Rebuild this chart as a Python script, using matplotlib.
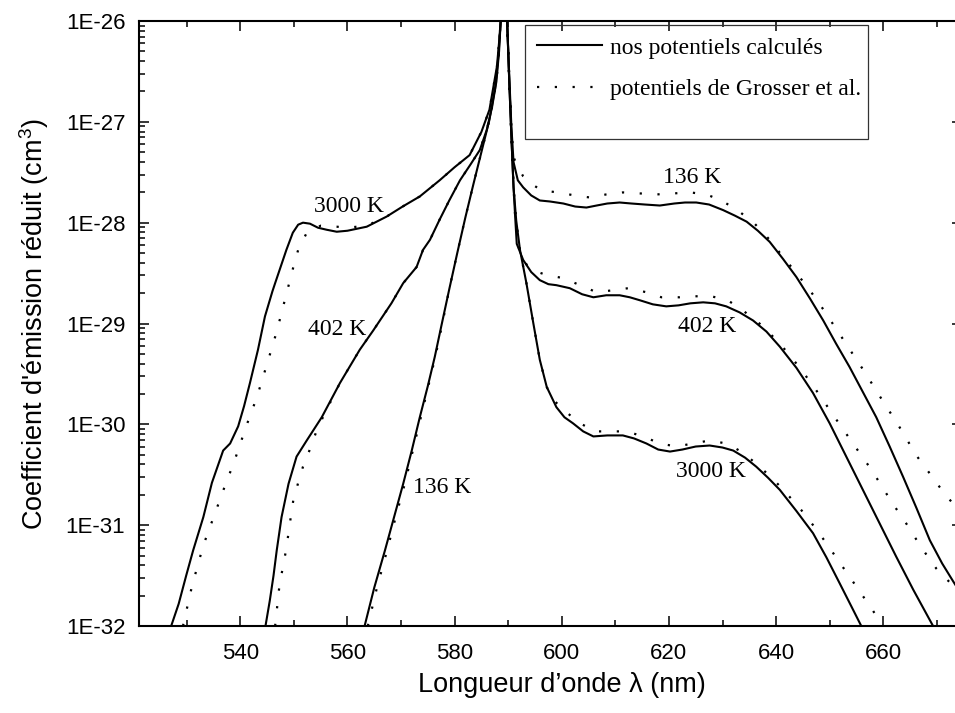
import numpy as np
import matplotlib
matplotlib.use("Agg")
import matplotlib.pyplot as plt
from matplotlib.ticker import FixedLocator, FuncFormatter, MultipleLocator, NullFormatter
from matplotlib.lines import Line2D
from matplotlib.patches import Rectangle

plt.rcParams['font.family'] = ['Liberation Sans', 'DejaVu Sans']
plt.rcParams['mathtext.fontset'] = 'custom'
plt.rcParams['mathtext.rm'] = 'Liberation Sans'
plt.rcParams['mathtext.it'] = 'Liberation Sans:italic'
plt.rcParams['mathtext.bf'] = 'Liberation Sans:bold'
SERIF = ['Liberation Serif', 'DejaVu Serif']

# Reduced emission coefficient, stored as log10(cm^3), versus wavelength (nm)
# --- 136 K ---
wl_136_calc = [563.2, 565.0, 567.0, 568.7, 570.4, 572.0, 573.5, 575.0, 576.3, 577.5,
               579.0, 580.5, 582.0, 583.5, 585.0, 586.5, 587.6, 588.2, 588.6, 589.2,
               589.8, 590.2, 590.6, 591.0, 591.8, 592.8, 594.3, 595.9, 597.8, 600.3,
               602.5, 604.6, 606.5, 608.5, 610.8, 613.0, 615.5, 618.3, 621.0, 623.0,
               625.1, 627.5, 630.1, 632.3, 634.5, 636.6, 638.8, 641.3, 643.8, 646.3,
               648.8, 651.2, 653.7, 656.2, 658.7, 661.2, 663.7, 666.2, 668.7, 671.0,
               673.2, 675.0]
lg_136_calc = [-32.0, -31.62, -31.25, -30.92, -30.59, -30.26, -29.93, -29.62, -29.33, -29.03,
               -28.66, -28.30, -27.95, -27.62, -27.30, -26.98, -26.65, -26.33, -26.0, -25.7,
               -26.0, -26.55, -27.05, -27.4, -27.58, -27.65, -27.73, -27.78, -27.79, -27.81,
               -27.84, -27.85, -27.83, -27.81, -27.80, -27.81, -27.82, -27.83, -27.81, -27.80,
               -27.80, -27.82, -27.875, -27.93, -27.99, -28.08, -28.19, -28.36, -28.54, -28.75,
               -28.97, -29.20, -29.43, -29.68, -29.93, -30.22, -30.52, -30.83, -31.15, -31.38,
               -31.57, -31.72]
wl_136_gros = [563.8, 565.5, 567.4, 569.0, 570.7, 572.2, 573.7, 575.1, 576.4, 577.6,
               579.0, 580.5, 582.0, 583.5, 585.0, 586.5, 587.6, 588.2, 588.6, 589.2,
               589.8, 590.2, 590.6, 591.0, 591.8, 592.8, 594.5, 596.2, 599.3, 602.4,
               605.2, 608.3, 611.4, 614.6, 617.7, 620.8, 624.0, 627.0, 629.8, 632.9,
               636.0, 638.8, 641.3, 643.8, 646.3, 648.3, 650.3, 652.3, 654.4, 656.4,
               658.4, 660.4, 662.5, 664.3, 666.2, 668.3, 670.5, 673.2, 675.0]
lg_136_gros = [-32.0, -31.62, -31.25, -30.92, -30.59, -30.26, -29.93, -29.62, -29.33, -29.03,
               -28.66, -28.30, -27.95, -27.62, -27.30, -26.98, -26.65, -26.33, -26.0, -25.7,
               -26.0, -26.55, -27.05, -27.35, -27.45, -27.54, -27.62, -27.68, -27.70, -27.73,
               -27.75, -27.72, -27.70, -27.71, -27.72, -27.71, -27.70, -27.72, -27.78, -27.88,
               -28.01, -28.17, -28.34, -28.50, -28.67, -28.82, -28.98, -29.14, -29.31, -29.47,
               -29.64, -29.81, -29.98, -30.14, -30.31, -30.46, -30.62, -30.80, -30.92]

# --- 402 K ---
wl_402_calc = [544.7, 545.5, 546.2, 546.8, 547.7, 549.0, 550.5, 552.4, 555.2, 558.6,
               562.3, 564.8, 568.2, 570.4, 572.9, 574.1, 575.4, 577.2, 579.0, 581.0,
               583.0, 584.7, 586.0, 587.0, 587.8, 588.3, 588.6, 589.2, 589.8, 590.2,
               590.6, 591.0, 591.3, 591.6, 592.8, 594.3, 595.9, 597.5, 599.0, 601.5,
               603.8, 605.9, 608.3, 610.8, 612.7, 614.6, 617.0, 619.5, 621.8, 624.0,
               626.4, 628.6, 630.7, 633.2, 635.7, 638.2, 640.7, 643.8, 646.9, 650.0,
               653.1, 656.2, 659.3, 662.4, 665.6, 669.3]
lg_402_calc = [-32.0, -31.75, -31.5, -31.25, -30.92, -30.59, -30.32, -30.16, -29.93, -29.59,
               -29.26, -29.07, -28.80, -28.60, -28.44, -28.27, -28.17, -27.97, -27.78, -27.58,
               -27.42, -27.28, -27.08, -26.85, -26.6, -26.3, -26.0, -25.7, -26.0, -26.6,
               -27.15, -27.65, -27.94, -28.21, -28.37, -28.49, -28.57, -28.61, -28.62, -28.65,
               -28.71, -28.74, -28.72, -28.72, -28.74, -28.77, -28.81, -28.83, -28.82, -28.80,
               -28.79, -28.80, -28.83, -28.89, -28.97, -29.08, -29.23, -29.44, -29.69, -29.99,
               -30.32, -30.65, -30.98, -31.31, -31.64, -32.0]
wl_402_gros = [546.5, 547.3, 548.6, 549.2, 549.9, 550.8, 551.7, 552.9, 554.2, 555.5,
               558.6, 562.3, 564.8, 568.2, 570.4, 572.9, 574.1, 575.4, 577.2, 579.0,
               581.0, 583.0, 584.7, 586.0, 587.0, 587.8, 588.3, 588.6, 589.2, 589.8,
               590.2, 590.6, 591.0, 591.3, 592.0, 593.1, 595.0, 597.2, 600.3, 603.4,
               606.5, 609.6, 612.4, 615.8, 618.6, 622.0, 624.8, 627.9, 631.0, 633.8,
               636.9, 640.0, 642.5, 645.0, 647.2, 649.4, 651.6, 653.7, 655.8, 657.8,
               659.8, 661.8, 663.9, 665.9, 667.9, 669.9, 673.2, 675.0]
lg_402_gros = [-32.0, -31.6, -31.23, -31.0, -30.75, -30.58, -30.42, -30.26, -30.07, -29.92,
               -29.59, -29.26, -29.07, -28.80, -28.60, -28.44, -28.27, -28.17, -27.97, -27.78,
               -27.58, -27.42, -27.28, -27.08, -26.85, -26.6, -26.3, -26.0, -25.7, -26.0,
               -26.6, -27.15, -27.65, -27.94, -28.25, -28.40, -28.48, -28.52, -28.55, -28.62,
               -28.69, -28.67, -28.65, -28.69, -28.74, -28.74, -28.73, -28.73, -28.77, -28.87,
               -29.00, -29.16, -29.31, -29.48, -29.64, -29.81, -29.98, -30.14, -30.30, -30.45,
               -30.62, -30.79, -30.95, -31.12, -31.28, -31.43, -31.61, -31.72]

# --- 3000 K ---
wl_3000_calc = [527.1, 528.5, 529.9, 531.2, 533.1, 534.7, 536.8, 538.1, 539.6, 540.7,
                541.8, 543.3, 544.6, 546.0, 546.5, 548.6, 549.8, 550.8, 551.7, 553.0,
                554.5, 556.1, 558.0, 560.0, 563.6, 567.3, 570.3, 573.5, 577.2, 580.0,
                582.8, 585.0, 586.5, 587.9, 588.4, 588.6, 589.2, 589.8, 590.2, 590.6,
                591.0, 591.5, 592.2, 593.4, 594.7, 595.9, 597.2, 599.0, 600.5, 602.1,
                604.0, 605.9, 608.5, 611.4, 613.5, 615.8, 618.0, 620.2, 622.5, 625.0,
                627.6, 630.0, 632.0, 634.2, 636.3, 638.5, 640.7, 643.8, 646.9, 649.4,
                651.9, 654.0, 655.9]
lg_3000_calc = [-32.0, -31.78, -31.5, -31.25, -30.92, -30.58, -30.26, -30.19, -30.02, -29.82,
                -29.59, -29.26, -28.93, -28.68, -28.60, -28.27, -28.10, -28.02, -28.00, -28.01,
                -28.05, -28.07, -28.09, -28.08, -28.04, -27.94, -27.84, -27.74, -27.58, -27.45,
                -27.33, -27.10, -26.88, -26.45, -26.15, -26.0, -25.7, -26.0, -26.6, -27.15,
                -27.65, -27.98, -28.27, -28.60, -29.0, -29.36, -29.63, -29.83, -29.93, -29.99,
                -30.07, -30.12, -30.11, -30.11, -30.14, -30.19, -30.25, -30.27, -30.25, -30.22,
                -30.21, -30.23, -30.26, -30.33, -30.42, -30.53, -30.65, -30.86, -31.08, -31.32,
                -31.58, -31.8, -32.0]
wl_3000_gros = [529.3, 531.0, 533.1, 535.5, 537.2, 538.8, 541.1, 543.1, 545.0, 546.8,
                548.3, 549.9, 550.8, 552.4, 555.0, 558.0, 560.0, 563.6, 567.3, 570.3,
                573.5, 577.2, 580.0, 582.8, 585.0, 586.5, 587.9, 588.4, 588.6, 589.2,
                589.8, 590.2, 590.6, 591.0, 591.5, 592.2, 593.4, 594.7, 595.9, 597.2,
                598.5, 600.0, 603.1, 606.2, 609.3, 612.1, 615.2, 618.3, 621.4, 624.5,
                627.6, 630.7, 633.5, 636.3, 639.4, 642.2, 644.7, 647.2, 649.4, 651.6,
                653.7, 655.9, 658.0, 659.8]
lg_3000_gros = [-32.0, -31.6, -31.2, -30.85, -30.6, -30.38, -30.02, -29.73, -29.40, -29.08,
                -28.77, -28.44, -28.27, -28.10, -28.03, -28.04, -28.05, -28.03, -27.94, -27.84,
                -27.74, -27.58, -27.45, -27.33, -27.10, -26.88, -26.45, -26.15, -26.0, -25.7,
                -26.0, -26.6, -27.15, -27.65, -27.98, -28.27, -28.60, -29.0, -29.36, -29.63,
                -29.76, -29.84, -29.98, -30.07, -30.07, -30.07, -30.12, -30.19, -30.22, -30.19,
                -30.16, -30.19, -30.27, -30.39, -30.54, -30.70, -30.85, -31.02, -31.18, -31.35,
                -31.51, -31.68, -31.84, -32.0]

# Temperature annotations (wavelength, log10 coefficient at text baseline)
temp_labels = ['3000 K', '402 K', '136 K', '136 K', '402 K', '3000 K']
label_wl = [560.3, 558.05, 577.65, 624.3, 627.1, 627.9]
label_lg = [-27.89, -29.115, -30.68, -27.61, -29.08, -30.52]

legend_labels = ['nos potentiels calculés', 'potentiels de Grosser et al.']
x_major_ticks = [540, 560, 580, 600, 620, 640, 660]
y_decades = [-32, -31, -30, -29, -28, -27, -26]

# ---------------------------------------------------------------------------
W, H = 955, 713
fig = plt.figure(figsize=(W / 100, H / 100), dpi=100)
ax_l, ax_r, ax_t, ax_b = 138.5, 962.0, 21.0, 626.0
ax = fig.add_axes([ax_l / W, (H - ax_b) / H, (ax_r - ax_l) / W, (ax_b - ax_t) / H])

DOTS = (0, (1, 7))
series = [
    (wl_136_calc, lg_136_calc, wl_136_gros, lg_136_gros),
    (wl_402_calc, lg_402_calc, wl_402_gros, lg_402_gros),
    (wl_3000_calc, lg_3000_calc, wl_3000_gros, lg_3000_gros),
]
for wc, lc, wg, lgr in series:
    ax.plot(wg, 10.0 ** np.asarray(lgr), color='black', lw=1.6, ls=DOTS)
    ax.plot(wc, 10.0 ** np.asarray(lc), color='black', lw=1.5, solid_joinstyle='round')

for txt, xw, yl in zip(temp_labels, label_wl, label_lg):
    ax.text(xw, 10.0 ** yl, txt, fontsize=17, family=SERIF, ha='center', va='baseline')

ax.set_yscale('log')
ax.set_xlim(521, 674.7)
ax.set_ylim(1e-32, 1e-26)

ax.set_xticks(x_major_ticks)
ax.xaxis.set_minor_locator(MultipleLocator(10))
major_y = [10.0 ** d for d in y_decades]
minor_y = [m * 10.0 ** d for d in y_decades[:-1] for m in range(2, 10)]
ax.yaxis.set_major_locator(FixedLocator(major_y))
ax.yaxis.set_minor_locator(FixedLocator(minor_y))
ax.yaxis.set_minor_formatter(NullFormatter())
ax.yaxis.set_major_formatter(FuncFormatter(lambda v, p: f"1E{int(np.round(np.log10(v)))}"))

ax.tick_params(which='both', direction='in', top=True, right=True, width=1.1, colors='black')
ax.tick_params(which='major', length=7.5)
ax.tick_params(which='minor', length=4.5)
ax.tick_params(axis='x', which='major', pad=12, labelsize=16)
ax.tick_params(axis='y', which='major', pad=9.5, labelsize=16)
for sp in ax.spines.values():
    sp.set_linewidth(1.5)

ax.set_xlabel('Longueur d’onde λ (nm)', fontsize=19.5)
ax.xaxis.label.set_verticalalignment('center')
ax.xaxis.set_label_coords((561.5 - ax_l) / (ax_r - ax_l), (ax_b - 685) / (ax_b - ax_t))
ax.set_ylabel("Coefficient d'émission réduit (cm$^3$)", fontsize=19.5)
ax.yaxis.label.set_verticalalignment('center')
ax.yaxis.set_label_coords((34 - ax_l) / (ax_r - ax_l), 0.5)

# Legend with a separately drawn frame
handles = [Line2D([], [], color='black', lw=1.5),
           Line2D([], [], color='black', lw=1.6, ls=DOTS)]
sx = ax_r - ax_l
sy = ax_b - ax_t
ax.legend(handles, legend_labels, loc='upper left',
          bbox_to_anchor=((537 - ax_l) / sx, (ax_b - 37) / sy),
          frameon=False, borderpad=0, borderaxespad=0, handlelength=2.75,
          handletextpad=0.34, labelspacing=0.85,
          prop={'family': SERIF, 'size': 17})
ax.add_patch(Rectangle(((525 - ax_l) / sx, (ax_b - 139) / sy), (868 - 525) / sx, (139 - 25) / sy,
                       transform=ax.transAxes, fill=False, edgecolor='#333333', lw=0.9, zorder=5))

fig.savefig('out.png', dpi=100)
